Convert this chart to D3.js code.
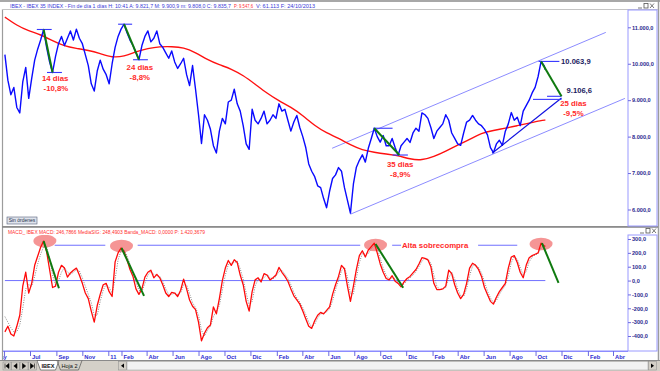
<!DOCTYPE html>
<html>
<head>
<meta charset="utf-8">
<script src="https://d3js.org/d3.v7.min.js"></script>
<style>
body { margin: 0; background: #fff; }
svg { display: block; font-family: "Liberation Sans", Arial, sans-serif; }
</style>
</head>
<body>
<div id="chart"></div>
<script>
// 设置尺寸
const width = 660;
const height = 371;

// ---- data (weekly closes) ----
const weekStart = "2010-05-03";
const priceClose = [
    10250, 9550, 9150, 9350, 8800, 8650, 9500, 9900, 9050, 9600,
    10100, 10400, 10650, 10940, 10450, 10050, 9760, 10200, 10550, 10750,
    10500, 10700, 10900, 10650, 10950, 10700, 10550, 10250, 9950, 9450,
    9250, 9800, 10100, 9850, 9700, 9450, 10000, 10450, 10750, 10950,
    11085, 10850, 10650, 10500, 10300, 10110, 10500, 10750, 10900, 10600,
    10700, 10900, 10550, 10450, 10300, 10150, 10350, 10050, 9870, 10000,
    10150, 9700, 9400, 9950, 9300, 8600, 7810, 8600, 8450, 8200,
    7750, 7550, 8150, 8500, 8350, 8950, 9000, 9300, 8900, 8700,
    8300, 7800, 7650, 8750, 8450, 8350, 8500, 8700, 8350, 8450,
    8600, 8500, 8900, 8700, 8750, 8450, 8150, 8400, 8580, 8250,
    8000, 7700, 7250, 7050, 6900, 6650, 6600, 6300, 6050, 6500,
    6850, 6950, 7150, 7050, 6600, 6250, 5900, 6700, 7160, 7350,
    7500, 7300, 7680, 7950, 8230, 8000, 7850, 8030, 7750, 7750,
    7950, 7700, 7490, 7750, 7850, 7950, 7840, 8100, 8230, 8150,
    8650, 8600, 8500, 8250, 7950, 8150, 8250, 8350, 8600, 8450,
    8100, 7950, 7800, 7760, 8100, 8400, 8450, 8580, 8450, 8350,
    8300, 8200, 8050, 7700, 7560, 7800, 7900, 7760, 8150, 8350,
    8660, 8450, 8530, 8300, 8700, 8850, 9000, 9200, 9350, 9650,
    10063.9, 9950
];
const lastDay = "2013-10-24";
const lastClose = 9835.7;

// moving average, one value every 4 weeks
const maValues = [
    11280, 11050, 10900, 10800, 10630, 10480, 10420, 10370, 10280, 10170,
    10200, 10330, 10420, 10470, 10470, 10450, 10310, 10110, 9970, 9860,
    9680, 9440, 9190, 8980, 8810, 8580, 8300, 8100, 7960, 7770,
    7630, 7570, 7520, 7480, 7380, 7350, 7450, 7600, 7770, 7920,
    8100, 8170, 8230, 8300, 8370, 8440
];
const maLast = 8455;

const macdValues = [
    -370, -330, -385, -400, -330, -250, -40, 60, -90, -20,
    110, 175, 240, 285, 210, 80, -50, -40, 60, 110,
    90, 25, 55, 75, 90, 40, -20, -90, -130, -220,
    -300, -180, -100, -30, -20, -80, -115, 135, 200, 235,
    210, 150, 80, 30, -60, -100, -60, 25, 60, 75,
    20, 45, 20, -30, -90, -115, -85, -90, -115, -70,
    10, -60, -140, -185, -210, -300, -435, -380, -340, -320,
    -190, -240, -130, 0, 90, 145, 110, 150, 130, 40,
    -30, -150, -220, -80, 5, 20, -10, 50, 40, 5,
    20, 40, 95, 60, 30, -5, -60, -110, -140, -170,
    -220, -275, -330, -345, -290, -250, -230, -240, -215, -190,
    -100, -30, 30, 110, 85, -40, -150, -40, 80, 180,
    215, 170, 220, 245, 270, 200, 120, 60, 15, 5,
    35, -5, -20, -45, -10, 15, 30, 55, 80, 120,
    165, 160, 150, 100, -20, -65, -65, -60, -40, 75,
    50, -30, -90, -130, -100, -20, 90, 125, 110, 80,
    30, -50, -100, -150, -170, -120, -80, -50, -20, 90,
    170, 180, 130, 60, 20, 110, 165, 180, 190, 200,
    270, 250
];
const macdLast = 246.79;

const signalValues = [
    -260, -300, -340, -370, -370, -320, -200, -60, -30, -40,
    30, 120, 190, 245, 245, 160, 40, -30, 0, 60,
    95, 60, 45, 60, 80, 70, 20, -40, -100, -160,
    -250, -250, -150, -70, -25, -50, -90, 10, 150, 215,
    220, 180, 115, 60, -10, -70, -80, -20, 40, 65,
    45, 35, 30, -5, -60, -100, -100, -90, -100, -90,
    -30, -30, -95, -160, -195, -250, -360, -400, -360, -330,
    -260, -220, -180, -70, 40, 115, 125, 130, 140, 85,
    10, -90, -180, -150, -40, 10, 5, 20, 45, 20,
    12, 30, 65, 75, 45, 15, -30, -85, -125, -155,
    -195, -245, -300, -335, -315, -270, -240, -235, -225, -205,
    -145, -65, 0, 70, 95, 25, -95, -95, 20, 130,
    195, 190, 195, 230, 255, 235, 160, 90, 40, 10,
    20, 15, -10, -30, -25, 0, 20, 40, 65, 100,
    140, 160, 155, 125, 40, -40, -65, -62, -50, 20,
    60, 10, -60, -110, -115, -60, 35, 105, 115, 95,
    55, -10, -75, -125, -160, -145, -100, -65, -35, 35,
    130, 175, 155, 95, 40, 65, 135, 170, 185, 195,
    235, 255
];
const signalLast = 248.49;

// axis ticks
const monthTicks = [
    "2010-05-01", "2010-07-01", "2010-09-01", "2010-11-01", "2011-01-01", "2011-02-01",
    "2011-04-01", "2011-06-01", "2011-08-01", "2011-10-01", "2011-12-01", "2012-02-01",
    "2012-04-01", "2012-06-01", "2012-08-01", "2012-10-01", "2012-12-01", "2013-02-01",
    "2013-04-01", "2013-06-01", "2013-08-01", "2013-10-01", "2013-12-01", "2014-02-01",
    "2014-04-01"
];
const monthLabels = [
    "May", "Jul", "Sep", "Nov", "11", "Feb", "Abr", "Jun", "Ago", "Oct", "Dic", "Feb",
    "Abr", "Jun", "Ago", "Oct", "Dic", "Feb", "Abr", "Jun", "Ago", "Oct", "Dic", "Feb", "Abr"
];
const priceTicks = [6000, 7000, 8000, 9000, 10000, 11000];
const macdTicks = [300, 200, 100, 0, -100, -200, -300, -400];

// header line pieces: text, colour, start x, length
const headerParts = [
    ["IBEX - IBEX 35 INDEX - Fin de día 1 días H: 10:41 A: 9.821,7 M: 9.900,9 m: 9.808,0 C: 9.835,7", "#3a3ad8", 10, 221],
    ["P: 9.547,6", "#ff3030", 234, 19],
    ["V: 61.113 F: 24/10/2013", "#3a3ad8", 256, 59]
];

// annotations on the price pane
const channelLines = [
    ["2012-06-10", 7680, "2014-03-15", 10860],
    ["2012-07-23", 5871, "2014-04-29", 9049]
];
const trendLine = ["2013-06-21", 7545, "2013-12-01", 9060];
const markLines = [
    ["2010-07-17", "2010-08-21", 10940],
    ["2010-08-10", "2010-09-14", 9760],
    ["2011-01-24", "2011-02-26", 11085],
    ["2011-02-28", "2011-04-04", 10110],
    ["2012-09-15", "2012-10-30", 8230],
    ["2012-10-30", "2012-12-05", 7495],
    ["2013-10-08", "2013-11-26", 10063.9],
    ["2013-10-28", "2013-12-01", 9106.6],
    ["2013-09-25", "2013-12-01", 9022]
];
const dropLines = [
    ["2010-08-02", 10940, "2010-08-23", 9760],
    ["2011-02-07", 11085, "2011-03-14", 10110],
    ["2012-09-17", 8230, "2012-11-15", 7495],
    ["2013-10-14", 10063.9, "2013-12-01", 9106.6]
];
const dropTexts = [
    ["2010-08-29", 9540, "14 dias", "middle"],
    ["2010-08-31", 9255, "-10,8%", "middle"],
    ["2011-03-16", 9816, "24 dias", "middle"],
    ["2011-03-16", 9542, "-8,8%", "middle"],
    ["2012-11-17", 7172, "35 dias", "middle"],
    ["2012-11-17", 6893, "-8,9%", "middle"],
    ["2013-11-28", 8827, "25 dias", "start"],
    ["2013-12-05", 8556, "-9,5%", "start"]
];
const levelTexts = [
    ["2013-11-30", 9995, "10.063,9"],
    ["2013-12-13", 9186, "9.106,6"]
];

// annotations on the MACD pane
const macdDrops = [
    ["2010-08-02", 285, "2010-09-07", -55],
    ["2011-02-01", 235, "2011-03-26", -110],
    ["2012-09-20", 264, "2012-11-24", -52],
    ["2013-10-16", 271, "2013-11-24", -17]
];
const macdPeaks = [
    ["2010-08-05", 285],
    ["2011-02-01", 250],
    ["2012-09-20", 257],
    ["2013-10-14", 264]
];
const overboughtLevel = 255;
const overboughtSegments = [
    ["2010-08-28", "2010-12-25"],
    ["2011-03-11", "2012-08-15"],
    ["2012-10-29", "2012-11-19"],
    ["2013-05-19", "2013-08-19"]
];

// ---- helpers ----
const parseDate = d3.timeParse("%Y-%m-%d");
const esLocale = d3.formatLocale({
    decimal: ",", thousands: ".", grouping: [3], currency: ["", ""], minus: "-"
});
const fmt = esLocale.format(",.1f");

const weekDates = priceClose.map((v, i) => d3.timeDay.offset(parseDate(weekStart), 7 * i));
const priceData = priceClose.map((v, i) => ({ date: weekDates[i], value: v }))
    .concat([{ date: parseDate(lastDay), value: lastClose }]);
const maData = maValues.map((v, i) => ({ date: weekDates[i * 4], value: v }))
    .concat([{ date: parseDate(lastDay), value: maLast }]);
const macdData = macdValues.map((v, i) => ({ date: weekDates[i], value: v }))
    .concat([{ date: parseDate(lastDay), value: macdLast }]);
const signalData = signalValues.map((v, i) => ({ date: weekDates[i], value: v }))
    .concat([{ date: parseDate(lastDay), value: signalLast }]);

// scales
const x = d3.scaleTime()
    .domain([parseDate("2010-07-01"), parseDate("2014-04-01")])
    .range([30, 613]);
const yPrice = d3.scaleLinear().domain([6000, 11000]).range([209.5, 27.3]);
const yMacd = d3.scaleLinear().domain([-400, 300]).range([336, 239]);

const svg = d3.select("#chart")
    .append("svg")
    .attr("width", width)
    .attr("height", height);

const defs = svg.append("defs");
defs.append("clipPath").attr("id", "clip-top")
    .append("rect").attr("x", 3).attr("y", 10).attr("width", 625).attr("height", 216);
defs.append("clipPath").attr("id", "clip-bottom")
    .append("rect").attr("x", 3).attr("y", 235).attr("width", 625).attr("height", 116);
defs.append("clipPath").attr("id", "clip-axis")
    .append("rect").attr("x", 3).attr("y", -2).attr("width", 625).attr("height", 12);

// ---- window frame ----
svg.append("rect").attr("width", width).attr("height", height).attr("fill", "#fff");
svg.append("rect").attr("x", 0).attr("y", 0).attr("width", width).attr("height", 2).attr("fill", "#a8a8a8");
svg.append("line").attr("x1", 2.5).attr("x2", 2.5).attr("y1", 9).attr("y2", 361)
    .attr("stroke", "#9c9c9c").attr("stroke-width", 1.2);
svg.append("line").attr("x1", 658.5).attr("x2", 658.5).attr("y1", 0).attr("y2", 361)
    .attr("stroke", "#9c9c9c").attr("stroke-width", 1.5);
svg.append("line").attr("x1", 2).attr("x2", 658).attr("y1", 9.5).attr("y2", 9.5)
    .attr("stroke", "#c4c4c4");
svg.append("rect").attr("x", 2).attr("y", 226).attr("width", 656).attr("height", 1.8).attr("fill", "#8c8c8c");

// right axis boxes
svg.append("rect").attr("x", 628).attr("y", 10).attr("width", 29).attr("height", 216)
    .attr("fill", "none").attr("stroke", "#9a9aff");
svg.append("rect").attr("x", 628).attr("y", 235).attr("width", 29).attr("height", 116)
    .attr("fill", "none").attr("stroke", "#9a9aff");

// small window buttons
function winButtons(x0, y0) {
    const g = svg.append("g").attr("stroke", "#555").attr("stroke-width", 0.8).attr("fill", "none");
    g.append("line").attr("x1", x0).attr("x2", x0 + 4).attr("y1", y0 + 4.5).attr("y2", y0 + 4.5);
    g.append("rect").attr("x", x0 + 6).attr("y", y0).attr("width", 4).attr("height", 4.5);
    g.append("path").attr("d", `M${x0 + 12},${y0}L${x0 + 16},${y0 + 4.5}M${x0 + 16},${y0}L${x0 + 12},${y0 + 4.5}`);
}
winButtons(638, 3.5);
winButtons(640, 228.5);

// ---- header texts (condensed, stretched upwards) ----
svg.selectAll(".header")
    .data(headerParts)
    .enter()
    .append("text")
    .attr("transform", d => `translate(${d[2]},8) scale(1,1.3)`)
    .attr("textLength", d => d[3]).attr("lengthAdjust", "spacingAndGlyphs")
    .style("font-size", "4.3px").style("fill", d => d[1])
    .text(d => d[0]);

svg.append("text")
    .attr("transform", "translate(8,233.5) scale(1,1.25)")
    .attr("textLength", 197).attr("lengthAdjust", "spacingAndGlyphs")
    .style("font-size", "4.6px").style("fill", "#ff3030")
    .text("MACD_ IBEX MACD: 246,7866 MediaSIG: 248,4903 Banda_MACD: 0,0000 P: 1.420,3679");

// ---- price pane ----
const topPane = svg.append("g").attr("clip-path", "url(#clip-top)");

// channel
topPane.selectAll(".channel")
    .data(channelLines)
    .enter()
    .append("line")
    .attr("x1", d => x(parseDate(d[0]))).attr("y1", d => yPrice(d[1]))
    .attr("x2", d => x(parseDate(d[2]))).attr("y2", d => yPrice(d[3]))
    .attr("stroke", "#8c8cff").attr("stroke-width", 1);

// moving average
topPane.append("path")
    .datum(maData)
    .attr("d", d3.line().x(d => x(d.date)).y(d => yPrice(d.value)).curve(d3.curveBasis))
    .attr("fill", "none").attr("stroke", "#ff1010").attr("stroke-width", 1.4);

// price
topPane.append("path")
    .datum(priceData)
    .attr("d", d3.line().x(d => x(d.date)).y(d => yPrice(d.value)))
    .attr("fill", "none").attr("stroke", "#0a0aff").attr("stroke-width", 1.4)
    .attr("stroke-linejoin", "round");

// trend line
topPane.append("line")
    .attr("x1", x(parseDate(trendLine[0]))).attr("y1", yPrice(trendLine[1]))
    .attr("x2", x(parseDate(trendLine[2]))).attr("y2", yPrice(trendLine[3]))
    .attr("stroke", "#1010e0").attr("stroke-width", 1.2);

// horizontal markers
topPane.selectAll(".mark")
    .data(markLines)
    .enter()
    .append("line")
    .attr("x1", d => x(parseDate(d[0]))).attr("x2", d => x(parseDate(d[1])))
    .attr("y1", d => yPrice(d[2])).attr("y2", d => yPrice(d[2]))
    .attr("stroke", "#3535ff").attr("stroke-width", 1.1);

// green drops
topPane.selectAll(".drop")
    .data(dropLines)
    .enter()
    .append("line")
    .attr("x1", d => x(parseDate(d[0]))).attr("y1", d => yPrice(d[1]))
    .attr("x2", d => x(parseDate(d[2]))).attr("y2", d => yPrice(d[3]))
    .attr("stroke", "#0f7a0f").attr("stroke-width", 2);

topPane.selectAll(".dropText")
    .data(dropTexts)
    .enter()
    .append("text")
    .attr("x", d => x(parseDate(d[0])))
    .attr("y", d => yPrice(d[1]))
    .attr("text-anchor", d => d[3])
    .style("font-size", "7.8px").style("font-weight", "bold").style("fill", "#ff2a2a")
    .text(d => d[2]);

topPane.selectAll(".levelText")
    .data(levelTexts)
    .enter()
    .append("text")
    .attr("x", d => x(parseDate(d[0])))
    .attr("y", d => yPrice(d[1]))
    .style("font-size", "7.6px").style("font-weight", "bold").style("fill", "#1c1c62")
    .text(d => d[2]);

// price axis
const priceAxis = svg.append("g")
    .attr("transform", "translate(628,0)")
    .call(d3.axisRight(yPrice).tickValues(priceTicks).tickFormat(fmt).tickSize(3).tickPadding(1));
priceAxis.select(".domain").remove();
priceAxis.selectAll("line").attr("stroke", "#6a6ae0");
priceAxis.selectAll("text")
    .style("font-size", "5.6px").style("font-weight", "bold").style("fill", "#2a2a90")
    .style("font-family", "'Liberation Sans', Arial, sans-serif");

// "Sin órdenes" button
svg.append("rect").attr("x", 7).attr("y", 217).attr("width", 30).attr("height", 7)
    .attr("fill", "#dfe3ec").attr("stroke", "#56607a").attr("stroke-width", 0.6);
svg.append("text").attr("x", 22).attr("y", 222.4).attr("text-anchor", "middle")
    .style("font-size", "5px").style("fill", "#23304a").text("Sin órdenes");

// ---- MACD pane ----
const bottomPane = svg.append("g").attr("clip-path", "url(#clip-bottom)");

bottomPane.append("line")
    .attr("x1", x(priceData[0].date)).attr("x2", x(parseDate(lastDay)))
    .attr("y1", yMacd(0)).attr("y2", yMacd(0))
    .attr("stroke", "#7070ff").attr("stroke-width", 1);

bottomPane.selectAll(".ob")
    .data(overboughtSegments)
    .enter()
    .append("line")
    .attr("x1", d => x(parseDate(d[0]))).attr("x2", d => x(parseDate(d[1])))
    .attr("y1", yMacd(overboughtLevel)).attr("y2", yMacd(overboughtLevel))
    .attr("stroke", "#7070ff").attr("stroke-width", 1);

bottomPane.append("text")
    .attr("x", x(parseDate("2012-11-21")))
    .attr("y", yMacd(overboughtLevel) + 2.6)
    .style("font-size", "7.8px").style("font-weight", "bold").style("fill", "#ff2a2a")
    .text("Alta sobrecompra");

bottomPane.selectAll(".peak")
    .data(macdPeaks)
    .enter()
    .append("ellipse")
    .attr("cx", d => x(parseDate(d[0]))).attr("cy", d => yMacd(d[1]))
    .attr("rx", 11.5).attr("ry", 6.3)
    .attr("fill", "#f27a7a").attr("fill-opacity", 0.8);

bottomPane.append("path")
    .datum(signalData)
    .attr("d", d3.line().x(d => x(d.date)).y(d => yMacd(d.value)))
    .attr("fill", "none").attr("stroke", "#7a7a7a").attr("stroke-width", 0.9)
    .attr("stroke-dasharray", "1,1.4");

bottomPane.append("path")
    .datum(macdData)
    .attr("d", d3.line().x(d => x(d.date)).y(d => yMacd(d.value)))
    .attr("fill", "none").attr("stroke", "#ff0a0a").attr("stroke-width", 1.3)
    .attr("stroke-linejoin", "round");

bottomPane.selectAll(".mdrop")
    .data(macdDrops)
    .enter()
    .append("line")
    .attr("x1", d => x(parseDate(d[0]))).attr("y1", d => yMacd(d[1]))
    .attr("x2", d => x(parseDate(d[2]))).attr("y2", d => yMacd(d[3]))
    .attr("stroke", "#0f7a0f").attr("stroke-width", 2);

const macdAxis = svg.append("g")
    .attr("transform", "translate(628,0)")
    .call(d3.axisRight(yMacd).tickValues(macdTicks).tickFormat(fmt).tickSize(3).tickPadding(1));
macdAxis.select(".domain").remove();
macdAxis.selectAll("line").attr("stroke", "#6a6ae0");
macdAxis.selectAll("text")
    .style("font-size", "5.6px").style("font-weight", "bold").style("fill", "#2a2a90")
    .style("font-family", "'Liberation Sans', Arial, sans-serif");

// ---- time axis ----
svg.append("line").attr("x1", 3).attr("x2", 628).attr("y1", 351.3).attr("y2", 351.3)
    .attr("stroke", "#8c8cff").attr("stroke-width", 1.6);
const timeAxis = svg.append("g")
    .attr("transform", "translate(0,351)")
    .attr("clip-path", "url(#clip-axis)")
    .call(d3.axisBottom(x)
        .tickValues(monthTicks.map(parseDate))
        .tickFormat((d, i) => monthLabels[i])
        .tickSize(5).tickSizeOuter(0));
timeAxis.select(".domain").remove();
timeAxis.selectAll("line").attr("stroke", "#6a6ae0");
timeAxis.selectAll("text")
    .attr("y", 3.5).attr("x", (d, i) => i === 0 ? -9 : 1.5)
    .attr("text-anchor", "start")
    .style("font-size", "5.8px").style("font-weight", "bold").style("fill", "#2e2ed0")
    .style("font-family", "'Liberation Sans', Arial, sans-serif");

// ---- sheet tabs / scroll bar ----
const tabs = svg.append("g");
tabs.append("rect").attr("x", 0).attr("y", 360).attr("width", width).attr("height", 11).attr("fill", "#d4d0c8");
tabs.append("line").attr("x1", 0).attr("x2", width).attr("y1", 360.5).attr("y2", 360.5).attr("stroke", "#8a8a8a");
const navIcons = [
    "M2,1.5V6.5M6,1.5L2.8,4L6,6.5Z",
    "M5.5,1.5L2.3,4L5.5,6.5Z",
    "M2.5,1.5L5.7,4L2.5,6.5Z",
    "M2,1.5L5.2,4L2,6.5ZM6,1.5V6.5"
];
navIcons.forEach((p, i) => {
    const g = tabs.append("g").attr("transform", `translate(${3 + i * 8.5},362)`);
    g.append("rect").attr("width", 8).attr("height", 8).attr("fill", "#d4d0c8").attr("stroke", "#8a8a8a").attr("stroke-width", 0.5);
    g.append("path").attr("d", p).attr("fill", "#000").attr("stroke", "#000").attr("stroke-width", 0.6);
});
tabs.append("path").attr("d", "M37,360.5L40.5,370L55.5,370L59,360.5Z")
    .attr("fill", "#fff").attr("stroke", "#404040").attr("stroke-width", 0.6);
tabs.append("text").attr("x", 48).attr("y", 367.8).attr("text-anchor", "middle")
    .style("font-size", "5.6px").style("font-weight", "bold").style("fill", "#111").text("IBEX");
tabs.append("path").attr("d", "M57,360.5L60.5,370L78.5,370L82,360.5")
    .attr("fill", "none").attr("stroke", "#404040").attr("stroke-width", 0.6);
tabs.append("text").attr("x", 69.5).attr("y", 367.8).attr("text-anchor", "middle")
    .style("font-size", "5.6px").style("fill", "#111").text("Hoja 2");
tabs.append("rect").attr("x", 127).attr("y", 361.5).attr("width", 521).attr("height", 8.5)
    .attr("fill", "#f2f2f2").attr("stroke", "#9a9a9a").attr("stroke-width", 0.5);
tabs.append("rect").attr("x", 118.5).attr("y", 361.5).attr("width", 8).attr("height", 8.5)
    .attr("fill", "#d4d0c8").attr("stroke", "#8a8a8a").attr("stroke-width", 0.5);
tabs.append("path").attr("d", "M124,363.5L121,365.8L124,368Z").attr("fill", "#000");
tabs.append("rect").attr("x", 648.5).attr("y", 361.5).attr("width", 8).attr("height", 8.5)
    .attr("fill", "#d4d0c8").attr("stroke", "#8a8a8a").attr("stroke-width", 0.5);
tabs.append("path").attr("d", "M651,363.5L654,365.8L651,368Z").attr("fill", "#000");
</script>
</body>
</html>
